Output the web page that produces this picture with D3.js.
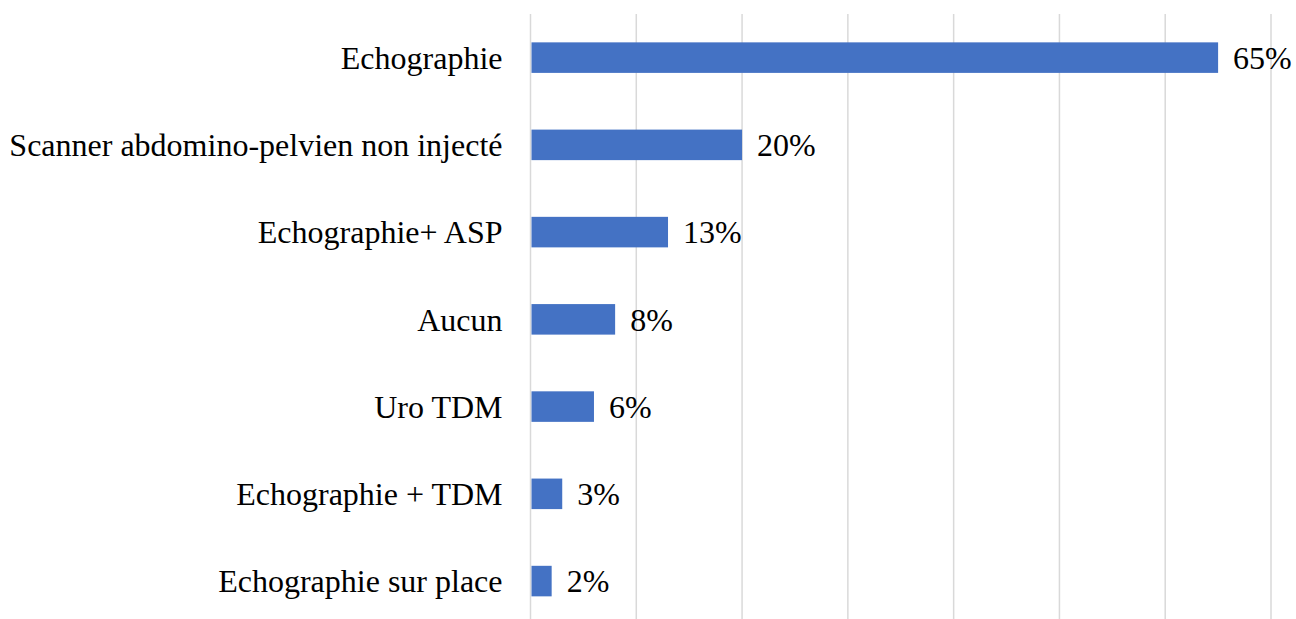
<!DOCTYPE html>
<html>
<head>
<meta charset="utf-8">
<script src="https://cdn.jsdelivr.net/npm/d3@7"></script>
<style>
  body { margin: 0; background: #fff; }
</style>
</head>
<body>
<svg id="chart" width="1296" height="619"></svg>
<script>
var categories = [
    "Echographie",
    "Scanner abdomino-pelvien non injecté",
    "Echographie+ ASP",
    "Aucun",
    "Uro TDM",
    "Echographie + TDM",
    "Echographie sur place"
];
var values = [65, 20, 13, 8, 6, 3, 2];
var tickValues = [0, 10, 20, 30, 40, 50, 60, 70];

var svg = d3.select("#chart"),
    fontFamily = "'Liberation Serif', 'Times New Roman', serif",
    plotLeft = 530.5,
    plotRight = 1271,
    plotTop = 14,
    plotBottom = 624.7;

var x = d3.scaleLinear()
    .domain([0, 70])
    .range([plotLeft, plotRight]);

var y = d3.scaleBand()
    .domain(categories)
    .range([plotTop, plotBottom])
    .paddingInner(0.65)
    .paddingOuter(0.325);

// vertical gridlines
svg.append("g")
    .selectAll("line")
    .data(tickValues)
    .enter().append("line")
    .attr("x1", function (d) { return x(d); })
    .attr("x2", function (d) { return x(d); })
    .attr("y1", plotTop)
    .attr("y2", 619)
    .style("stroke", "#d9d9d9")
    .style("stroke-width", 1.5);

// bars
svg.append("g")
    .selectAll("rect")
    .data(values)
    .enter().append("rect")
    .attr("x", x(0) + 1)
    .attr("y", function (d, i) { return y(categories[i]); })
    .attr("width", function (d) { return x(d) - x(0) - 1; })
    .attr("height", y.bandwidth())
    .style("fill", "#4472c4");

// category labels
svg.append("g")
    .selectAll("text")
    .data(categories)
    .enter().append("text")
    .attr("x", plotLeft - 28)
    .attr("y", function (d) { return y(d) + y.bandwidth() / 2; })
    .attr("dy", "0.35em")
    .attr("text-anchor", "end")
    .style("font-family", fontFamily)
    .style("font-size", "32px")
    .style("fill", "#000")
    .text(function (d) { return d; });

// value labels
svg.append("g")
    .selectAll("text")
    .data(values)
    .enter().append("text")
    .attr("x", function (d) { return x(d) + 15; })
    .attr("y", function (d, i) { return y(categories[i]) + y.bandwidth() / 2; })
    .attr("dy", "0.35em")
    .style("font-family", fontFamily)
    .style("font-size", "32px")
    .style("fill", "#000")
    .text(function (d) { return d + "%"; });
</script>
</body>
</html>
